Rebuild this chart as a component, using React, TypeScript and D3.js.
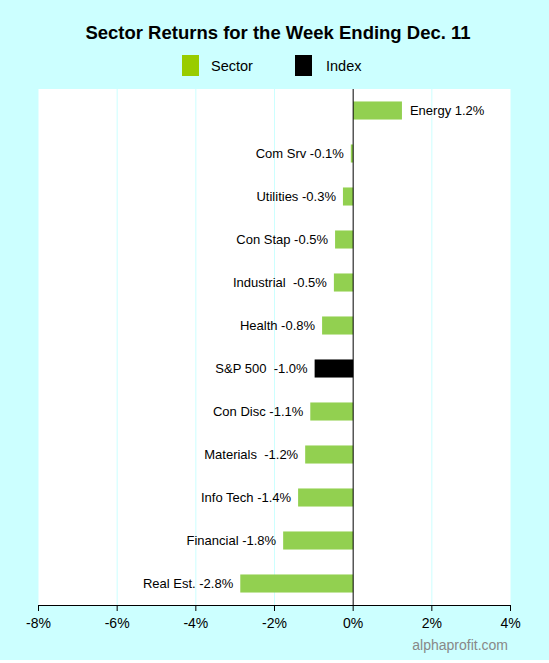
import React from "react";
import * as d3 from "d3";

const categories = ["Energy", "Com Srv", "Utilities", "Con Stap", "Industrial", "Health", "S&P 500", "Con Disc", "Materials", "Info Tech", "Financial", "Real Est."];
const values = [1.24, -0.06, -0.26, -0.46, -0.49, -0.79, -0.98, -1.09, -1.22, -1.4, -1.78, -2.87];
const labels = ["Energy 1.2%", "Com Srv -0.1%", "Utilities -0.3%", "Con Stap -0.5%", "Industrial  -0.5%", "Health -0.8%", "S&P 500  -1.0%", "Con Disc -1.1%", "Materials  -1.2%", "Info Tech -1.4%", "Financial -1.8%", "Real Est. -2.8%"];
const isIndex = [false, false, false, false, false, false, true, false, false, false, false, false];
const xTicks = [-8, -6, -4, -2, 0, 2, 4];

const W = 549, H = 660;
const left = 38.5, right = 510.5, top = 89, bottom = 605;

export default function App() {
  const x = d3.scaleLinear().domain([-8, 4]).range([left, right]);
  const y = d3.scaleBand<string>().domain(categories).range([top, bottom]).paddingInner(0.58).paddingOuter(0.29);
  const font = "Arial, 'Liberation Sans', sans-serif";
  return (
    <svg width={W} height={663} style={{ position: "absolute", left: 0, top: 0, display: "block" }} fontFamily={font}>
      <rect x={0} y={0} width={W} height={H} fill="#ccffff" />
      <rect x={left} y={top} width={right - left} height={bottom - top} fill="#ffffff" />
      {xTicks.filter(t => t !== 0 && t !== -8 && t !== 4).map(t => (
        <line key={t} x1={x(t)} x2={x(t)} y1={top} y2={bottom} stroke="#ccffff" strokeWidth={1} />
      ))}
      <text x={278} y={39} textAnchor="middle" fontSize={18.5} fontWeight="bold" fill="#000">Sector Returns for the Week Ending Dec. 11</text>
      <rect x={182} y={55} width={17} height={21} fill="#99cc00" />
      <text x={211} y={71} fontSize={14.5} fill="#000">Sector</text>
      <rect x={295} y={55} width={17} height={21} fill="#000" />
      <text x={326} y={71} fontSize={14.5} fill="#000">Index</text>
      {categories.map((c, i) => {
        const v = values[i];
        const x0 = x(Math.min(0, v));
        const x1 = x(Math.max(0, v));
        const yy = y(c)!;
        return (
          <g key={c}>
            <rect x={x0} y={yy} width={x1 - x0} height={y.bandwidth()} fill={isIndex[i] ? "#000" : "#92d050"} />
            <text x={v >= 0 ? x1 + 8 : x0 - 7} y={yy + y.bandwidth() / 2} dy="0.36em" textAnchor={v >= 0 ? "start" : "end"} fontSize={13} fill="#000" style={{ whiteSpace: "pre" }}>{labels[i]}</text>
          </g>
        );
      })}
      <line x1={x(0)} x2={x(0)} y1={top} y2={bottom} stroke="#000" strokeWidth={1} />
      <line x1={left - 0.5} x2={right} y1={bottom + 0.5} y2={bottom + 0.5} stroke="#000" strokeWidth={1} />
      {xTicks.map(t => (
        <g key={t}>
          <line x1={x(t)} x2={x(t)} y1={bottom} y2={bottom + 6} stroke="#000" strokeWidth={1} />
          <text x={x(t)} y={628} textAnchor="middle" fontSize={14} fill="#000">{`${t}%`}</text>
        </g>
      ))}
      <text x={508} y={650} textAnchor="end" fontSize={14} fill="#888888">alphaprofit.com</text>
    </svg>
  );
}
